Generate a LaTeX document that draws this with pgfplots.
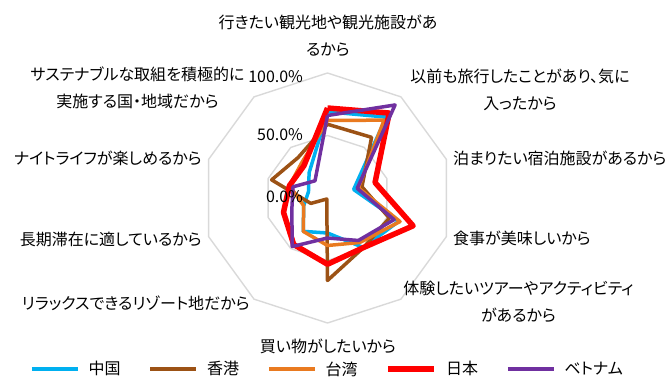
\documentclass[border=0pt]{standalone}
\usepackage{fontspec}
\setmainfont{Noto Sans CJK JP}[RawFeature=+palt]
\usepackage{pgfplots}
\usepackage{pgfplotstable}
\pgfplotsset{compat=1.18}
\usepgfplotslibrary{polar}

\definecolor{cn}{HTML}{00B0F0}
\definecolor{hk}{HTML}{9C5215}
\definecolor{tw}{HTML}{E97A20}
\definecolor{jp}{HTML}{FF0000}
\definecolor{vn}{HTML}{7030A0}
\definecolor{gridc}{HTML}{D9D9D9}

% angle: categories clockwise from the top, last row closes the polygon
\pgfplotstableread{
angle cn   hk   tw   jp   vn   full half
90    0.69 0.59 0.62 0.72 0.66 1 0.5
54    0.80 0.60 0.77 0.84 0.92 1 0.5
18    0.22 0.29 0.26 0.40 0.25 1 0.5
-18   0.60 0.52 0.61 0.72 0.56 1 0.5
-54   0.49 0.49 0.44 0.49 0.42 1 0.5
-90   0.28 0.66 0.38 0.53 0.32 1 0.5
-126  0.33 0.01 0.33 0.46 0.48 1 0.5
-162  0.20 0.14 0.20 0.37 0.30 1 0.5
-198  0.16 0.47 0.32 0.32 0.29 1 0.5
-234  0.25 0.40 0.35 0.32 0.17 1 0.5
-270  0.69 0.59 0.62 0.72 0.66 1 0.5
}\radar

\begin{document}
\begin{tikzpicture}[font=\fontsize{16bp}{27bp}\selectfont]
\useasboundingbox (-327.5bp,-181bp) rectangle (344.5bp,198bp);
\begin{polaraxis}[
  at={(0,0)}, anchor=origin,
  width=250bp, height=250bp, scale only axis,
  ymin=0, ymax=1,
  hide axis, clip=false,
  line join=round,
  legend columns=5,
  legend style={at={(0.5,-0.184)}, anchor=center, draw=none, fill=none,
    font=\fontsize{16bp}{18bp}\selectfont,
    /tikz/every even column/.append style={column sep=26bp}},
  legend image code/.code={\draw[#1] (0bp,0bp) -- (46bp,0bp); \path (53bp,0bp);},
]
\addplot[gridc, line width=1.4bp, forget plot] table[x=angle, y=full] {\radar};
\addplot[gridc, line width=1.4bp, forget plot] table[x=angle, y=half] {\radar};
\addplot[cn, line width=3.5bp] table[x=angle, y=cn] {\radar};
\addlegendentry{中国}
\addplot[hk, line width=3.5bp] table[x=angle, y=hk] {\radar};
\addlegendentry{香港}
\addplot[tw, line width=3.5bp] table[x=angle, y=tw] {\radar};
\addlegendentry{台湾}
\addplot[jp, line width=5.5bp] table[x=angle, y=jp] {\radar};
\addlegendentry{日本}
\addplot[vn, line width=3.5bp] table[x=angle, y=vn] {\radar};
\addlegendentry{ベトナム}

\node[anchor=east, xshift=-21bp, yshift=-4bp] at (axis cs:90,1) {100.0\%};
\node[anchor=east, xshift=-21bp, yshift=1bp] at (axis cs:90,0.5) {50.0\%};
\node[anchor=east, xshift=-21bp, yshift=1bp] at (axis cs:90,0) {0.0\%};
\end{polaraxis}

\node[align=center] at (0.5bp,162bp) {行きたい観光地や観光施設があ\\るから};
\node[align=center] at (192.5bp,108bp) {以前も旅行したことがあり、気に\\入ったから};
\node[anchor=west, inner sep=0pt] at (125.5bp,40bp) {泊まりたい宿泊施設があるから};
\node[anchor=west, inner sep=0pt] at (125.5bp,-40bp) {食事が美味しいから};
\node[align=center] at (191bp,-104bp) {体験したいツアーやアクティビティ\\があるから};
\node at (0.5bp,-148bp) {買い物がしたいから};
\node[anchor=east, inner sep=0pt] at (-77.5bp,-105bp) {リラックスできるリゾート地だから};
\node[anchor=east, inner sep=0pt] at (-125.5bp,-42bp) {長期滞在に適しているから};
\node[anchor=east, inner sep=0pt] at (-125.5bp,40bp) {ナイトライフが楽しめるから};
\node[align=center] at (-190bp,110bp) {サステナブルな取組を積極的に\\実施する国・地域だから};
\end{tikzpicture}
\end{document}
